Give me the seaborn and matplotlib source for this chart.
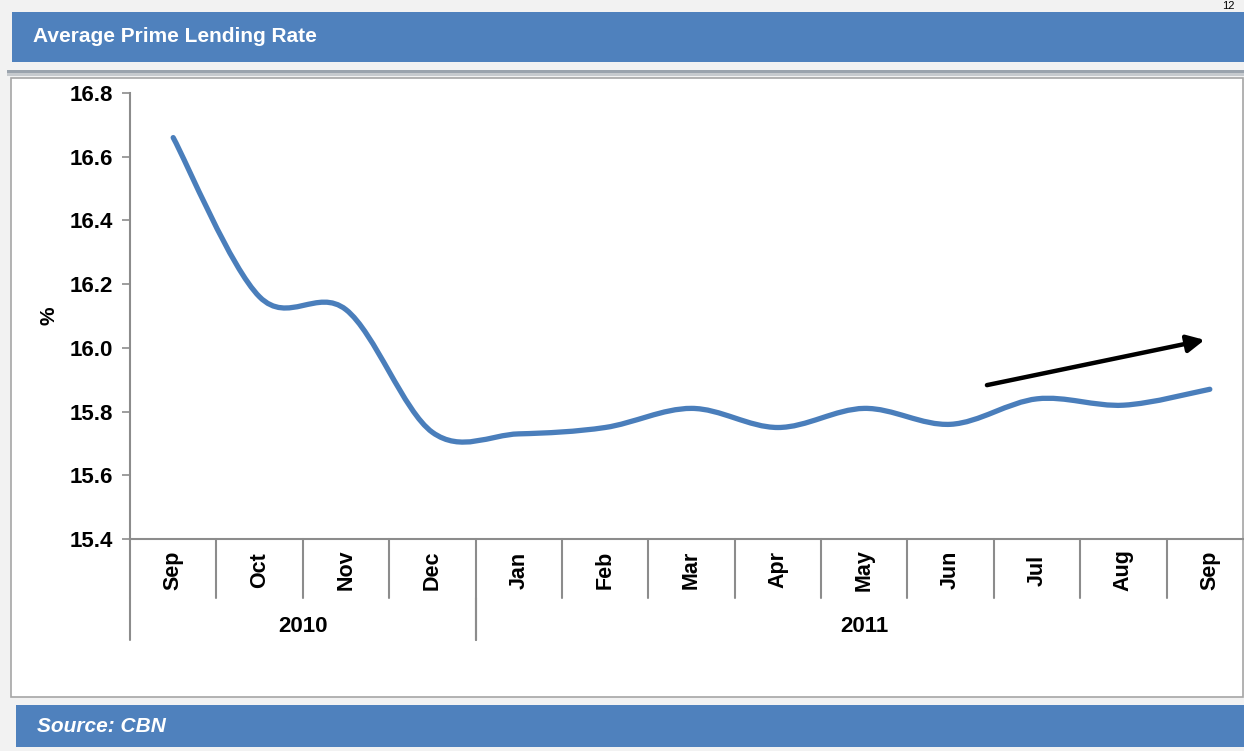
import matplotlib
matplotlib.use("Agg")
import matplotlib.pyplot as plt
from matplotlib.patches import Rectangle, PathPatch
from matplotlib.path import Path
from matplotlib.transforms import blended_transform_factory
import seaborn as sns

# data
months = ["Sep", "Oct", "Nov", "Dec", "Jan", "Feb", "Mar",
          "Apr", "May", "Jun", "Jul", "Aug", "Sep"]
years = ["2010", "2011"]
year_spans = [(0, 3), (4, 12)]
rate = [16.66, 16.16, 16.12, 15.735, 15.73, 15.75, 15.81,
        15.75, 15.81, 15.76, 15.84, 15.82, 15.87]
yticks = [15.4, 15.6, 15.8, 16.0, 16.2, 16.4, 16.6, 16.8]

# trend arrow (data coords)
arrow_start = (9.42, 15.883)
arrow_end = (11.94, 16.025)

BLUE_BAR = "#4f81bd"
LINE_BLUE = "#4a7ebb"
GRAY = "#8c8c8c"
W, H = 1244, 751

sns.set_style("white")
plt.rcParams["font.family"] = ["Liberation Sans", "DejaVu Sans"]
plt.rcParams["font.weight"] = "bold"
plt.rcParams["text.color"] = "black"
plt.rcParams["axes.labelcolor"] = "black"
plt.rcParams["ytick.labelcolor"] = "black"

fig = plt.figure(figsize=(W / 100, H / 100), dpi=100, facecolor="#f2f2f2")


def px_rect(x0, y0, x1, y1, **kw):
    # rectangle given in pixel coords from top-left
    fig.patches.append(Rectangle((x0 / W, 1 - y1 / H), (x1 - x0) / W, (y1 - y0) / H,
                                 transform=fig.transFigure, zorder=-5, **kw))


# header / footer bars and chart frame
px_rect(12, 12, 1250, 62, facecolor=BLUE_BAR, edgecolor="none")
px_rect(7, 70, 1250, 73, facecolor="#9aa3ad", edgecolor="none")
px_rect(7, 73, 1250, 76, facecolor="#c6cace", edgecolor="none")
px_rect(11, 78, 1243, 697, facecolor="white", edgecolor="#a6a6a6", linewidth=1.2)
px_rect(16, 705, 1250, 747, facecolor=BLUE_BAR, edgecolor="none")

fig.text(33 / W, 1 - 36 / H, "Average Prime Lending Rate", color="white",
         fontsize=15, fontweight="bold", ha="left", va="center")
fig.text(37 / W, 1 - 727 / H, "Source: CBN", color="white", fontsize=15,
         fontweight="bold", fontstyle="italic", ha="left", va="center")
fig.text(1228 / W, 1 - 1 / H, "12", color="black", fontsize=8,
         fontweight="normal", ha="center", va="top")

ax = fig.add_axes([130 / W, 1 - 539 / H, 1123 / W, 446 / H])
ax.set_facecolor("none")

# smoothed line (Bezier through the data points, like Excel's smoothed line)
pts = list(zip(range(len(rate)), rate))
verts = [pts[0]]
codes = [Path.MOVETO]
n = len(pts)
for i in range(n - 1):
    p_prev = pts[max(i - 1, 0)]
    p0 = pts[i]
    p1 = pts[i + 1]
    p_next = pts[min(i + 2, n - 1)]
    c1 = (p0[0] + (p1[0] - p_prev[0]) / 6, p0[1] + (p1[1] - p_prev[1]) / 6)
    c2 = (p1[0] - (p_next[0] - p0[0]) / 6, p1[1] - (p_next[1] - p0[1]) / 6)
    verts += [c1, c2, p1]
    codes += [Path.CURVE4] * 3
ax.add_patch(PathPatch(Path(verts, codes), facecolor="none", edgecolor=LINE_BLUE,
                       linewidth=3.8, capstyle="round", joinstyle="round", zorder=3))

ax.annotate("", xy=arrow_end, xytext=arrow_start,
            arrowprops=dict(arrowstyle="-|>", color="black", lw=3.2,
                            mutation_scale=26, shrinkA=0, shrinkB=0))

ax.set_xlim(-0.5, len(months) - 0.5)
ax.set_ylim(15.4, 16.8)
ax.set_yticks(yticks)
ax.set_yticklabels([f"{t:.1f}" for t in yticks], fontsize=16, fontweight="bold",
                   color="black")
ax.tick_params(axis="y", direction="out", length=6, width=1.2, color=GRAY, pad=6.5, left=True)
ax.set_xticks([])
ax.set_ylabel("%", fontsize=15, fontweight="bold", labelpad=8, color="black")

sns.despine(ax=ax, top=True, right=True)
for side in ["left", "bottom"]:
    ax.spines[side].set_color(GRAY)
    ax.spines[side].set_linewidth(1.5)

# two-level category axis
tr = blended_transform_factory(ax.transData, ax.transAxes)
lvl1 = -0.1323
lvl2 = -0.2265
for i in range(len(months) + 1):
    ax.plot([i - 0.5, i - 0.5], [0, lvl1], transform=tr, color=GRAY,
            lw=1.5, clip_on=False)
for (a, b) in year_spans:
    for edge in (a - 0.5, b + 0.5):
        ax.plot([edge, edge], [lvl1, lvl2], transform=tr, color=GRAY,
                lw=1.5, clip_on=False)
for i, m in enumerate(months):
    ax.text(i, -0.0695, m, transform=tr, rotation=90, ha="center", va="center",
            fontsize=15.5, fontweight="bold", color="black")
for yr, (a, b) in zip(years, year_spans):
    ax.text((a + b) / 2, -0.197, yr, transform=tr, ha="center", va="center",
            fontsize=16, fontweight="bold", color="black")

fig.savefig("out.png", dpi=100, facecolor=fig.get_facecolor())
